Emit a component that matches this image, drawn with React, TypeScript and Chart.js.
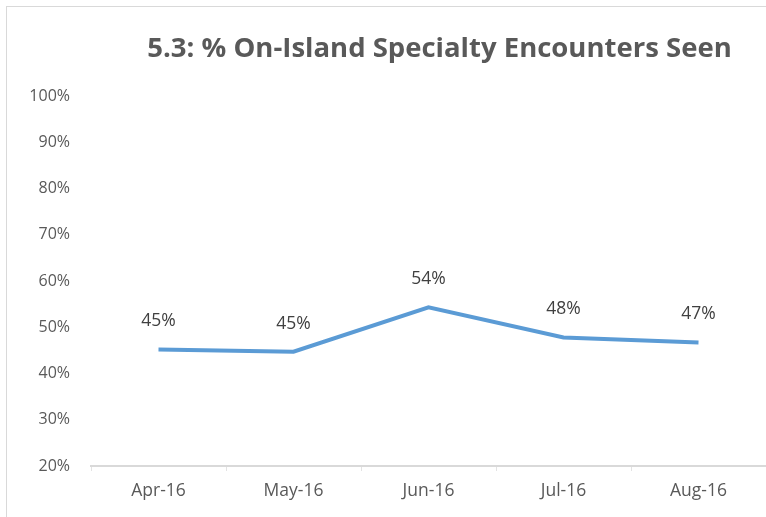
import React, { useEffect, useRef } from "react";
import { Chart, registerables } from "chart.js";

Chart.register(...registerables);

const categories = ["Apr-16", "May-16", "Jun-16", "Jul-16", "Aug-16"];
const seenPct = [45.2, 44.7, 54.3, 47.8, 46.7];
const yTicks = [20, 30, 40, 50, 60, 70, 80, 90, 100];
const titleText = "5.3: % On-Island Specialty Encounters Seen";

const FONT = "'Open Sans', 'DejaVu Sans', sans-serif";

const titlePlugin = {
  id: "customTitle",
  afterDraw(chart: any) {
    const { ctx, chartArea } = chart;
    ctx.save();
    ctx.font = `bold 27.5px ${FONT}`;
    ctx.fillStyle = "#595959";
    ctx.textAlign = "center";
    ctx.textBaseline = "middle";
    ctx.fillText(titleText, (chartArea.left + chartArea.right) / 2 + 11, 49);
    ctx.restore();
  },
};

const labelPlugin = {
  id: "pointLabels",
  afterDatasetsDraw(chart: any) {
    const { ctx } = chart;
    const meta = chart.getDatasetMeta(0);
    ctx.save();
    ctx.font = `17.5px ${FONT}`;
    ctx.fillStyle = "#404040";
    ctx.textAlign = "center";
    ctx.textBaseline = "middle";
    meta.data.forEach((pt: any, i: number) => {
      ctx.fillText(Math.round(seenPct[i]) + "%", pt.x, pt.y - 28);
    });
    ctx.restore();
  },
};

export default function App() {
  const ref = useRef<HTMLCanvasElement>(null);
  useEffect(() => {
    if (!ref.current) return;
    const chart = new Chart(ref.current, {
      type: "line",
      data: {
        labels: categories,
        datasets: [
          {
            data: seenPct,
            borderColor: "#5b9bd5",
            borderWidth: 4,
            pointRadius: 0,
            tension: 0,
            fill: false,
          },
        ],
      },
      options: {
        animation: false,
        responsive: false,
        maintainAspectRatio: false,
        layout: { padding: { top: 96, left: 0, right: 0, bottom: 0 } },
        plugins: { legend: { display: false }, title: { display: false }, tooltip: { enabled: false } },
        scales: {
          x: {
            offset: true,
            grid: {
              offset: true,
              drawOnChartArea: false,
              drawTicks: true,
              tickLength: 5,
              color: "#e3e3e3",
            },
            border: { display: true, color: "#d9d9d9", width: 2 },
            ticks: { color: "#595959", font: { family: FONT, size: 17.5 }, padding: 10 },
            afterFit: (s: any) => {
              s.height = 51;
            },
          },
          y: {
            min: 20,
            max: 100,
            afterBuildTicks: (s: any) => {
              s.ticks = yTicks.map((v) => ({ value: v }));
            },
            grid: { display: false },
            border: { display: false },
            ticks: {
              color: "#595959",
              font: { family: FONT, size: 16 },
              padding: 13,
              callback: (v: any) => v + "%",
            },
            afterFit: (s: any) => {
              s.width = 91;
            },
          },
        },
      },
      plugins: [titlePlugin, labelPlugin],
    });
    return () => chart.destroy();
  }, []);
  return (
    <div style={{ position: "fixed", left: 0, top: 0, width: 766, height: 517, background: "#fff" }}>
      <canvas ref={ref} width={766} height={517} style={{ position: "absolute", left: 0, top: 0 }} />
      <div
        style={{
          position: "absolute",
          left: 6,
          top: 6,
          right: 0,
          bottom: 0,
          borderLeft: "1px solid #d9d9d9",
          borderTop: "1px solid #d9d9d9",
          pointerEvents: "none",
        }}
      />
    </div>
  );
}
